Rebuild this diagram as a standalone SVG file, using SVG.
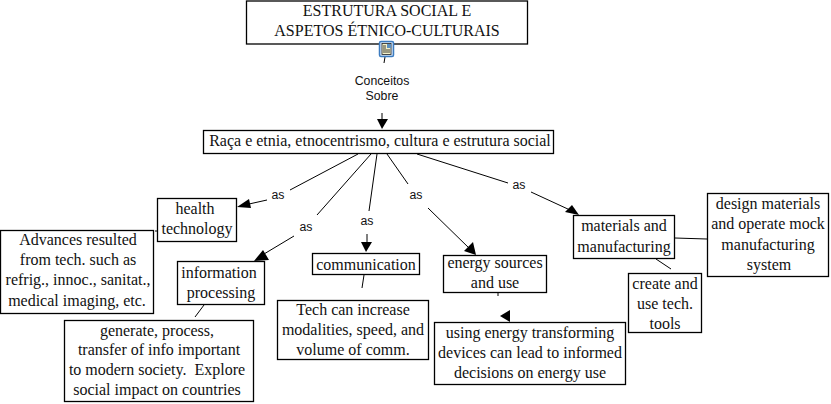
<svg xmlns="http://www.w3.org/2000/svg" width="831" height="404" viewBox="0 0 831 404">
<style>
.b{fill:#fff;stroke:#000;stroke-width:1.3}
.t{font:16px "Liberation Serif",serif;text-anchor:middle;fill:#111;white-space:pre}
.l{font:12.3px "Liberation Sans",sans-serif;text-anchor:middle;fill:#111}
.c line{stroke:#000;stroke-width:1}
.c polygon{fill:#000}
</style>
<rect width="831" height="404" fill="#fff"/>
<g id="connectors" class="c">
<line x1="385" y1="57" x2="384" y2="63"/>
<line x1="382" y1="113" x2="382" y2="120"/><polygon points="377,119 388,119 382,129"/>
<line x1="358" y1="154" x2="290" y2="190"/>
<line x1="267" y1="200" x2="249" y2="204"/><polygon points="237,207 249,199 251,208"/>
<line x1="371" y1="154" x2="317" y2="215"/>
<line x1="294" y1="236" x2="264" y2="254"/><polygon points="254,261 263,250 269,260"/>
<line x1="377" y1="154" x2="369" y2="211"/>
<line x1="367" y1="234" x2="367" y2="243"/><polygon points="361,242 372,242 366,252"/>
<line x1="387" y1="154" x2="408" y2="184"/>
<line x1="428" y1="208" x2="470" y2="249"/><polygon points="476,255 464,251 473,242"/>
<line x1="417" y1="154" x2="508" y2="183"/>
<line x1="531" y1="192" x2="570" y2="210"/><polygon points="579,215 565,212 572,205"/>
<line x1="155" y1="231" x2="158" y2="231"/>
<line x1="204" y1="305" x2="195" y2="317"/>
<line x1="364" y1="275" x2="362" y2="288"/>
<line x1="498" y1="293" x2="498" y2="296"/><polygon points="510,310 510,322 500,316"/>
<line x1="675" y1="238" x2="707" y2="239"/>
<line x1="656" y1="259" x2="671" y2="269"/>
</g>
<g id="title"><rect class="b" x="246.5" y="1" width="281" height="43"/>
<text class="t" x="387" y="16">ESTRUTURA SOCIAL E</text><text class="t" x="387" y="36">ASPETOS ÉTNICO-CULTURAIS</text></g>
<g id="icon"><rect x="379.500" y="41.500" width="14" height="15" rx="1.500" fill="#cfe0f5" stroke="#3d7cc0" stroke-width="1.500"/>
<rect x="382" y="43.500" width="9" height="11" fill="#f4f0c8" stroke="#222" stroke-width=".8"/>
<rect x="387" y="44" width="4" height="4" fill="#5b8fc0"/>
<path d="M383 46h3M383 48h3M383 50h7M383 52h7" stroke="#111" stroke-width=".8"/></g>
<g id="lbl-conceitos"><text class="l" x="382" y="85">Conceitos</text><text class="l" x="382" y="100">Sobre</text></g>
<g id="main"><rect class="b" x="203.500" y="130.500" width="350" height="23"/><text class="t" x="380" y="146">Raça e etnia, etnocentrismo, cultura e estrutura social</text></g>
<g id="lbl-as1"><text class="l" x="278" y="199">as</text></g>
<g id="lbl-as2"><text class="l" x="306" y="231">as</text></g>
<g id="lbl-as3"><text class="l" x="367" y="225">as</text></g>
<g id="lbl-as4"><text class="l" x="416" y="199">as</text></g>
<g id="lbl-as5"><text class="l" x="519" y="189">as</text></g>
<g id="health"><rect class="b" x="157.500" y="198.500" width="79" height="43"/><text class="t" x="195" y="214">health</text><text class="t" x="197" y="234">technology</text></g>
<g id="advances"><rect class="b" x="0.500" y="230.500" width="153" height="83"/><text class="t" x="78" y="245">Advances resulted</text><text class="t" x="78" y="265">from tech. such as</text><text class="t" x="78" y="285">refrig., innoc., sanitat.,</text><text class="t" x="77" y="306">medical imaging, etc.</text></g>
<g id="information"><rect class="b" x="177.500" y="261.500" width="87" height="43"/><text class="t" x="219" y="278">information</text><text class="t" x="221" y="298">processing</text></g>
<g id="generate"><rect class="b" x="64.500" y="320.500" width="189" height="81"/><text class="t" x="157" y="336">generate, process,</text><text class="t" x="159" y="355">transfer of info important</text><text class="t" x="157" y="375">to modern society.  Explore</text><text class="t" x="157" y="395">social impact on countries</text></g>
<g id="communication"><rect class="b" x="312.500" y="253.500" width="107" height="21"/><text class="t" x="366" y="270">communication</text></g>
<g id="tech"><rect class="b" x="277.500" y="300.500" width="151" height="59"/><text class="t" x="353" y="315">Tech can increase</text><text class="t" x="353" y="335">modalities, speed, and</text><text class="t" x="353" y="355">volume of comm.</text></g>
<g id="energy"><rect class="b" x="443.500" y="255.500" width="103" height="37"/><text class="t" x="495" y="268">energy sources</text><text class="t" x="495" y="288">and use</text></g>
<g id="using"><rect class="b" x="434.500" y="322.500" width="191" height="62"/><text class="t" x="530" y="338">using energy transforming</text><text class="t" x="530" y="358">devices can lead to informed</text><text class="t" x="530" y="378">decisions on energy use</text></g>
<g id="materials"><rect class="b" x="573.500" y="215.500" width="101" height="43"/><text class="t" x="624" y="231">materials and</text><text class="t" x="624" y="252">manufacturing</text></g>
<g id="design"><rect class="b" x="707.500" y="193.500" width="121" height="83"/><text class="t" x="768" y="209">design materials</text><text class="t" x="768" y="229">and operate mock</text><text class="t" x="768" y="250">manufacturing</text><text class="t" x="769" y="270">system</text></g>
<g id="create"><rect class="b" x="628.500" y="273.500" width="73" height="59"/><text class="t" x="665" y="289">create and</text><text class="t" x="665" y="309">use tech.</text><text class="t" x="665" y="329">tools</text></g>
</svg>
